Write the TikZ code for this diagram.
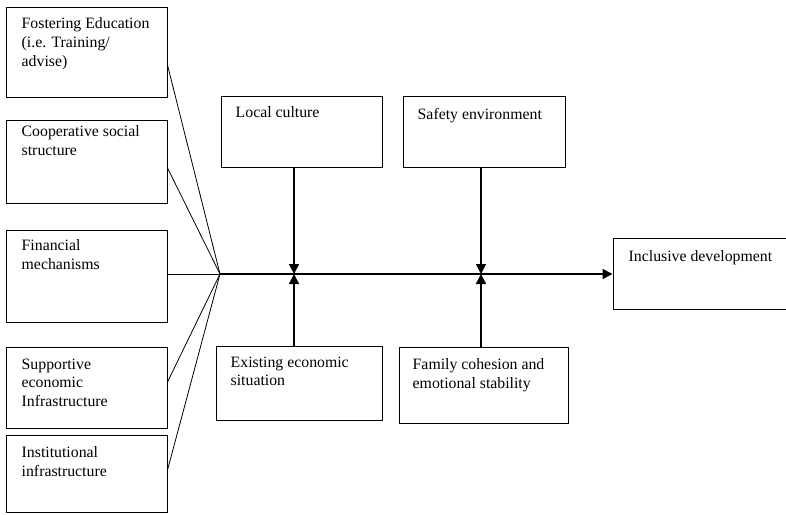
\documentclass[tikz,border=0pt]{standalone}
\usepackage{fontspec}
\setmainfont{Liberation Serif}
\usepackage{tikz}
\usetikzlibrary{arrows.meta, calc, positioning}

\begin{document}
\begin{tikzpicture}[x=1pt, y=-1pt,
		box/.style={draw, line width=1pt, inner sep=0pt},
		txt/.style={anchor=north west, inner sep=0pt, align=left,
			font=\fontsize{15.8}{18.8}\selectfont},
		fan/.style={line width=0.8pt},
		arr/.style={-{Triangle[length=10pt, width=10pt]}, line width=1.6pt}]
	
	\useasboundingbox (0,0) rectangle (786,514);
	
	%--- left column: drivers ---
	\node[box, minimum width=161pt, minimum height=90pt] (edu) at (86.5,52) {};
	\node[box, minimum width=161pt, minimum height=83pt] (coop) at (86.5,161.5) {};
	\node[box, minimum width=161pt, minimum height=92pt] (fin) at (86.5,276) {};
	\node[box, minimum width=161pt, minimum height=81pt] (sup) at (86.5,387.5) {};
	\node[box, minimum width=161pt, minimum height=77pt] (inst) at (86.5,473.5) {};
	
	\node[txt] (edutxt) at ([xshift=16pt, yshift=-11pt]edu.north west)
	{Fostering Education\\(i.e. Training/\\advise)};
	\node[txt] (cooptxt) at ([xshift=16pt, yshift=-6pt]coop.north west)
	{Cooperative social\\structure};
	\node[txt] (fintxt) at ([xshift=16pt, yshift=-10pt]fin.north west)
	{Financial\\mechanisms};
	\node[txt] (suptxt) at ([xshift=16pt, yshift=-12pt]sup.north west)
	{Supportive\\economic\\Infrastructure};
	\node[txt] (insttxt) at ([xshift=16pt, yshift=-12pt]inst.north west)
	{Institutional\\infrastructure};
	
	%--- middle: moderating factors ---
	\node[box, minimum width=161pt, minimum height=71pt] (loc) at (301.5,131.5) {};
	\node[box, minimum width=162pt, minimum height=71pt] (saf) at (484,131.5) {};
	\node[box, minimum width=166pt, minimum height=74pt] (exi) at (299,383) {};
	\node[box, minimum width=169pt, minimum height=76pt] (fam) at (483.5,385) {};
	
	\node[txt] (loctxt) at ([xshift=15pt, yshift=-11pt]loc.north west) {Local culture};
	\node[txt] (saftxt) at ([xshift=15pt, yshift=-13pt]saf.north west) {Safety environment};
	\node[txt] (exitxt) at ([xshift=15pt, yshift=-11pt]exi.north west)
	{Existing economic\\situation};
	\node[txt] (famtxt) at ([xshift=14pt, yshift=-12pt]fam.north west)
	{Family cohesion and\\emotional stability};
	
	%--- outcome ---
	\node[box, minimum width=174pt, minimum height=71pt] (incl) at (700,274) {};
	\node[txt] (incltxt) at ([xshift=16pt, yshift=-12pt]incl.north west)
	{Inclusive development};
	
	%--- spine and junctions ---
	\coordinate (hub) at (220,274);
	\coordinate (j1) at (294,274);
	\coordinate (j2) at (481,274);
	
	\draw[fan] ([yshift=-13pt]edu.east) -- (hub);
	\draw[fan] ([yshift=-6.5pt]coop.east) -- (hub);
	\draw[fan] (fin.east |- hub) -- (hub);
	\draw[fan] ([yshift=5.5pt]sup.east) -- (hub);
	\draw[fan] ([yshift=3.5pt]inst.east) -- (hub);
	
	\draw[arr] (hub) -- (incl.west);
	\draw[arr] (loc.south -| j1) -- (j1);
	\draw[arr] (saf.south -| j2) -- (j2);
	\draw[arr] (exi.north -| j1) -- (j1);
	\draw[arr] (fam.north -| j2) -- (j2);
\end{tikzpicture}
\end{document}
